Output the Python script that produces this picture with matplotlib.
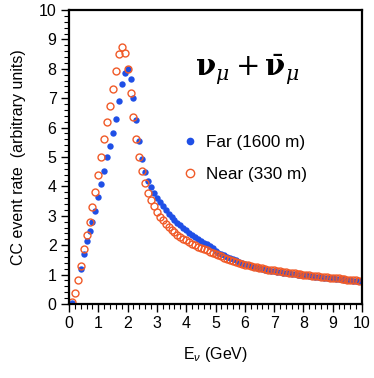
import numpy as np
import matplotlib
matplotlib.use("Agg")
import matplotlib.pyplot as plt
from matplotlib.ticker import MultipleLocator

plt.rcParams['font.family'] = ['Liberation Sans', 'DejaVu Sans']
plt.rcParams['mathtext.fontset'] = 'custom'
plt.rcParams['mathtext.rm'] = 'Liberation Sans'
plt.rcParams['mathtext.it'] = 'Liberation Sans:italic'

energy = [round(0.1 * k, 1) for k in range(1, 100)]

near = [0.06, 0.36, 0.82, 1.30, 1.88, 2.36, 2.79, 3.29, 3.80, 4.39,
        5.01, 5.60, 6.19, 6.72, 7.31, 7.91, 8.49, 8.75, 8.54, 7.99,
        7.17, 6.35, 5.62, 5.01, 4.51, 4.13, 3.79, 3.54, 3.32, 3.13,
        2.97, 2.84, 2.72, 2.62, 2.52, 2.44, 2.36, 2.29, 2.22, 2.16,
        2.10, 2.05, 2.00, 1.95, 1.90, 1.86, 1.82, 1.78, 1.74, 1.70,
        1.66, 1.62, 1.58, 1.54, 1.50, 1.47, 1.43, 1.40, 1.37, 1.34,
        1.32, 1.29, 1.27, 1.25, 1.23, 1.21, 1.19, 1.17, 1.15, 1.14,
        1.12, 1.11, 1.09, 1.08, 1.06, 1.05, 1.04, 1.02, 1.01, 1.00,
        0.99, 0.97, 0.96, 0.95, 0.94, 0.93, 0.92, 0.91, 0.90, 0.89,
        0.88, 0.87, 0.86, 0.85, 0.83, 0.82, 0.81, 0.80, 0.79]

far = [0.02, np.nan, np.nan, 1.19, 1.71, 2.14, 2.48, 2.80, 3.17, 3.63,
       4.08, 4.52, 4.99, 5.38, 5.83, 6.30, 6.90, 7.47, 7.87, 7.98,
       7.65, 7.00, 6.26, 5.55, 4.94, 4.49, 4.19, 3.97, 3.78, 3.61,
       3.46, 3.32, 3.19, 3.07, 2.96, 2.86, 2.76, 2.67, 2.58, 2.50,
       2.42, 2.35, 2.28, 2.21, 2.15, 2.09, 2.03, 1.97, 1.92, 1.80,
       1.75, 1.70, 1.65, 1.61, 1.56, 1.52, 1.48, 1.44, 1.40, 1.36,
       1.32, 1.29, 1.26, 1.23, 1.21, 1.19, 1.17, 1.15, 1.13, 1.12,
       1.10, 1.09, 1.07, 1.06, 1.04, 1.03, 1.02, 1.00, 0.99, 0.98,
       0.97, 0.95, 0.94, 0.93, 0.92, 0.91, 0.90, 0.89, 0.88, 0.87,
       0.86, 0.85, 0.84, 0.83, 0.81, 0.80, 0.79, 0.78, 0.77]

xticks = list(range(0, 11))
yticks = list(range(0, 11))

blue = '#1f4fe6'
orange = '#f05a28'

fig = plt.figure(figsize=(3.74, 3.78), dpi=100)
ax = fig.add_axes([0.1845, 0.1958, 0.7835, 0.7777])

ax.plot(energy, far, linestyle='none', marker='o', markersize=4.6,
        color=blue, markeredgewidth=0, label='Far (1600 m)')
ax.plot(energy, near, linestyle='none', marker='o', markersize=5.0,
        markerfacecolor='none', markeredgecolor=orange, markeredgewidth=1.0,
        label='Near (330 m)')

ax.set_xlim(0, 10)
ax.set_ylim(0, 10)
ax.set_xticks(xticks)
ax.set_yticks(yticks)
ax.xaxis.set_minor_locator(MultipleLocator(0.2))
ax.yaxis.set_minor_locator(MultipleLocator(0.2))
ax.tick_params(which='major', direction='out', length=6, width=1.0,
               labelsize=11.5, pad=3)
ax.tick_params(which='minor', direction='out', length=3.5, width=0.8)
ax.tick_params(top=False, right=False)
for sp in ax.spines.values():
    sp.set_linewidth(1.6)

ax.set_xlabel(r'E$_\nu$ (GeV)', fontsize=11.5, labelpad=10)
ax.set_ylabel('CC event rate  (arbitrary units)', fontsize=11.5, labelpad=9)

ax.text(6.1, 7.95, r'$\mathbf{\nu}_\mu + \bar{\mathbf{\nu}}_\mu$',
        fontsize=21, ha='center', va='center', math_fontfamily='dejavuserif')

ax.legend(loc='upper left', bbox_to_anchor=(0.365, 0.597), frameon=False,
          fontsize=12.3, handletextpad=0.45, handlelength=0.9,
          labelspacing=0.95, borderaxespad=0, markerscale=1.2)

fig.savefig('out.png', dpi=100)
